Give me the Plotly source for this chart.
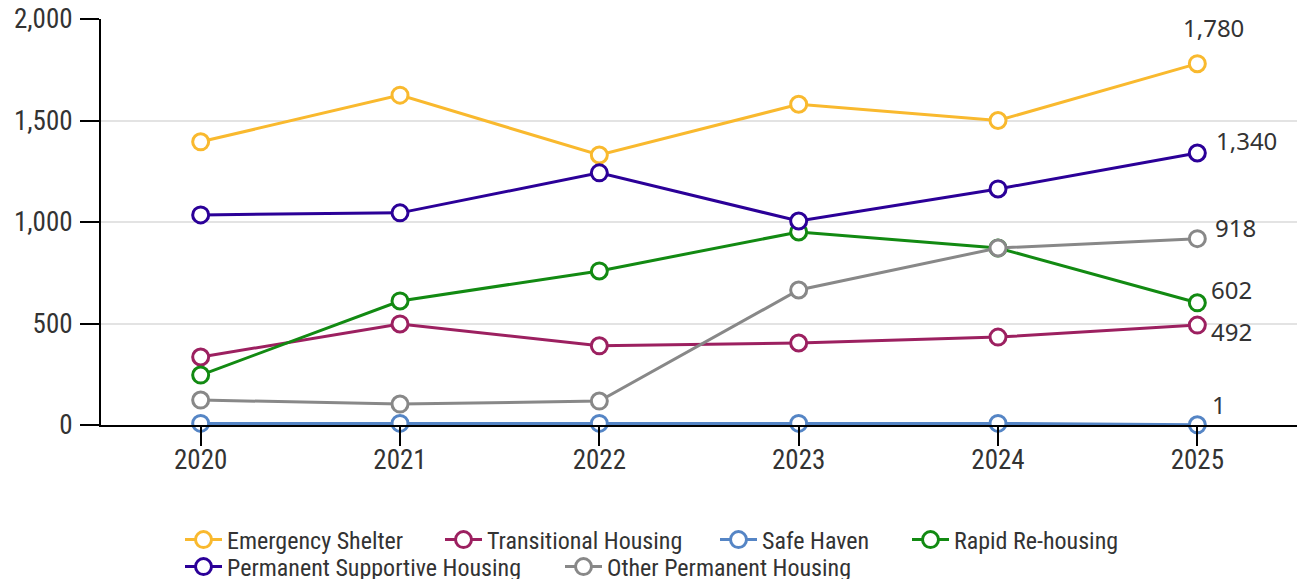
import plotly.graph_objects as go

years = ["2020", "2021", "2022", "2023", "2024", "2025"]

emergency_shelter = [1395, 1625, 1330, 1580, 1500, 1780]
transitional_housing = [335, 498, 390, 404, 433, 492]
safe_haven = [8, 8, 8, 8, 8, 1]
rapid_rehousing = [246, 611, 759, 951, 872, 602]
permanent_supportive = [1035, 1045, 1242, 1005, 1163, 1340]
other_permanent = [123, 103, 118, 665, 872, 918]

series = [
    ("Emergency Shelter", emergency_shelter, "#F9B92E"),
    ("Transitional Housing", transitional_housing, "#9C2060"),
    ("Safe Haven", safe_haven, "#5585C5"),
    ("Rapid Re-housing", rapid_rehousing, "#128A12"),
    ("Permanent Supportive Housing", permanent_supportive, "#2B0098"),
    ("Other Permanent Housing", other_permanent, "#888888"),
]

# end-label offsets in px (xshift, yshift, anchor)
label_offsets = [
    (16, 36, "center"),
    (12, -6, "left"),
    (13, 20, "left"),
    (12, 13, "left"),
    (17, 12, "left"),
    (16, 11, "left"),
]

# legend placement (container px: left x, row centre y)
legend_pos = [(180, 540), (440, 540), (715, 540), (907, 540), (180, 567), (560, 567)]

FONT = "Roboto Condensed, Roboto, sans-serif"
W, H = 1299, 579

fig = go.Figure()
annotations = []
legends = {}
for i, (name, vals, color) in enumerate(series):
    lname = "legend" if i == 0 else f"legend{i+1}"
    fig.add_trace(go.Scatter(
        x=years, y=vals, name=name, mode="lines+markers",
        line=dict(color=color, width=3),
        marker=dict(symbol="circle", size=16, color="white",
                    line=dict(color=color, width=3)),
        cliponaxis=False, legend=lname,
    ))
    xs, ys, anchor = label_offsets[i]
    annotations.append(dict(
        x=len(years) - 1, y=vals[-1], xref="x", yref="y",
        text=f"{vals[-1]:,}", showarrow=False,
        xanchor=anchor, yanchor="middle",
        xshift=xs, yshift=ys,
        font=dict(family="Noto Sans, Open Sans, sans-serif", size=24, color="#333333"),
    ))
    lx, ly = legend_pos[i]
    legends[lname] = dict(
        orientation="h", xref="container", yref="container",
        x=lx / W, xanchor="left", y=1 - ly / H, yanchor="middle",
        font=dict(family=FONT, size=24, color="#333333"),
        itemwidth=37, bgcolor="rgba(0,0,0,0)",
    )

fig.update_layout(
    width=W, height=H,
    margin=dict(l=101, r=2, t=19, b=154),
    paper_bgcolor="white", plot_bgcolor="white",
    font=dict(family=FONT, color="#333333"),
    showlegend=True,
    annotations=annotations,
    xaxis=dict(
        type="category", range=[-0.5, 5.5], automargin=False,
        showline=True, linecolor="black", linewidth=2,
        ticks="outside", ticklen=19, tickwidth=2, tickcolor="black",
        tickfont=dict(family=FONT, size=27, color="#333333"),
        ticklabelstandoff=-9,
        showgrid=False, zeroline=False,
    ),
    yaxis=dict(
        range=[0, 2000], tickvals=[0, 500, 1000, 1500, 2000],
        tickformat=",", automargin=False,
        showline=True, linecolor="black", linewidth=2,
        ticks="outside", ticklen=19, tickwidth=2, tickcolor="black",
        tickfont=dict(family=FONT, size=27, color="#333333"),
        ticklabelstandoff=2,
        showgrid=True, gridcolor="#e3e3e3", gridwidth=2,
        zeroline=False,
    ),
    **legends,
)

post = ("document.body.style.margin='0';document.body.style.overflow='hidden';"
        "var gd=document.getElementById('{plot_id}');"
        "Plotly.relayout(gd,{width:%d,height:%d});" % (W, H))
fig.write_html("out.html", post_script=post,
               config={"responsive": False, "displayModeBar": False})
